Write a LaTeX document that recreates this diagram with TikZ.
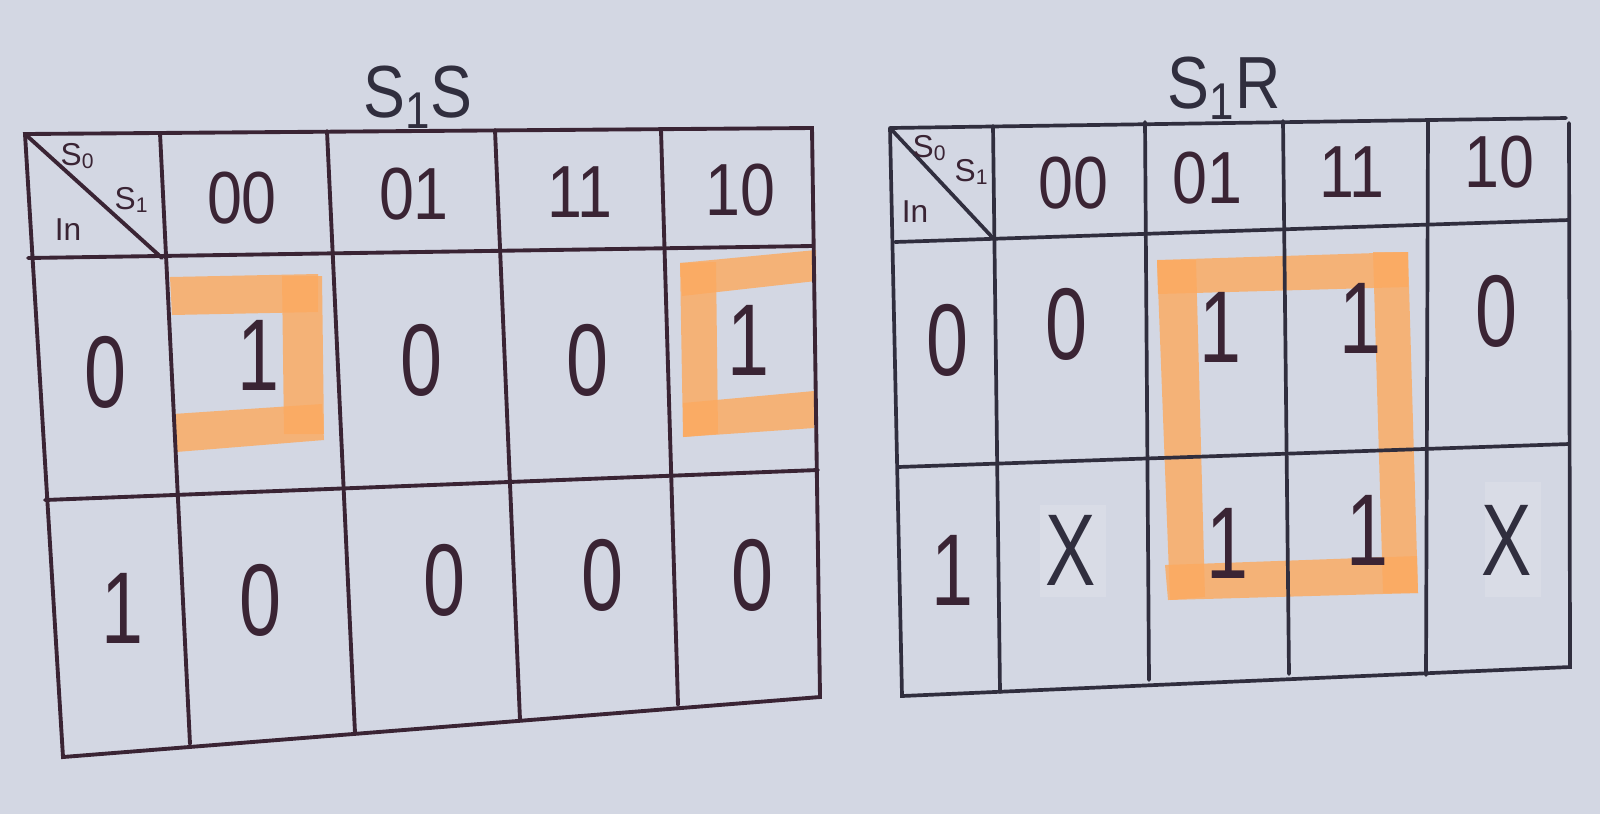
\documentclass[tikz,border=0pt]{standalone}
\usepackage{fontspec}
\setmainfont{Liberation Sans}
\definecolor{paper}{RGB}{211,215,227}
\definecolor{inkL}{RGB}{58,36,52}
\definecolor{inkR}{RGB}{48,46,62}
\definecolor{hl}{RGB}{252,170,96}
\tikzset{
  gridL/.style={draw=inkL,line width=1.1pt,line cap=round},
  gridR/.style={draw=inkR,line width=1.05pt,line cap=round},
  bar/.style={fill=hl,opacity=0.82,draw=none},
  tape/.style={fill=white,opacity=0.14,draw=none},
  cell/.style={text=inkL,font=\fontsize{29}{31}\selectfont,xscale=0.74,inner sep=0pt},
  hdr/.style={text=inkL,font=\fontsize{21}{23}\selectfont,xscale=0.85,inner sep=0pt},
  ttl/.style={text=inkR,font=\fontsize{21}{23}\selectfont,xscale=0.85,inner sep=0pt},
  crn/.style={text=inkL,font=\fontsize{9}{10}\selectfont,inner sep=0pt}
}
\begin{document}
\begin{tikzpicture}[x=0.01cm,y=-0.01cm]
\fill[paper] (0,0) rectangle (1600,814);
\useasboundingbox (0,0) rectangle (1600,814);

% ---------- left map: highlights ----------
\fill[bar] (170,277) -- (318,274) -- (318,312) -- (172,315) -- cycle;
\fill[bar] (282,276) -- (322,276) -- (324,434) -- (284,434) -- cycle;
\fill[bar] (173,414) -- (322,404) -- (324,440) -- (176,452) -- cycle;
\fill[bar] (680,263) -- (816,250) -- (816,281) -- (682,296) -- cycle;
\fill[bar] (680,263) -- (716,262) -- (718,434) -- (683,437) -- cycle;
\fill[bar] (683,403) -- (814,391) -- (814,428) -- (683,437) -- cycle;

% ---------- right map: highlights ----------
\fill[bar] (1157,260) -- (1408,252) -- (1408,287) -- (1158,294) -- cycle;
\fill[bar] (1157,260) -- (1196,260) -- (1205,597) -- (1170,600) -- cycle;
\fill[bar] (1165,565) -- (1417,556) -- (1418,593) -- (1168,600) -- cycle;
\fill[bar] (1373,252) -- (1408,252) -- (1418,593) -- (1383,593) -- cycle;
\fill[tape] (1040,505) rectangle (1106,597);
\fill[tape] (1485,482) rectangle (1541,597);

% ---------- left grid ----------
\coordinate (lTL) at (25,134);  \coordinate (lTR) at (812,128);
\coordinate (lBL) at (63,757);  \coordinate (lBR) at (820,697);
\draw[gridL] (lTL) -- (lTR) -- (lBR) -- (lBL) -- cycle;
\draw[gridL] (28,258) -- (812,246);
\draw[gridL] (45,500) -- (818,470);
\draw[gridL] (160,133) -- (190,744);
\draw[gridL] (327,131) -- (355,733);
\draw[gridL] (495,130) -- (520,720);
\draw[gridL] (661,130) -- (678,705);
\draw[gridL] (lTL) -- (162,258);

% ---------- right grid ----------
\coordinate (rTL) at (890,128);  \coordinate (rTR) at (1566,118);
\coordinate (rBL) at (902,696);  \coordinate (rBR) at (1570,667);
\draw[gridR] (rTL) -- (rTR) (1569,123) -- (rBR) -- (rBL) -- (rTL);
\draw[gridR] (895,242) -- (1569,220);
\draw[gridR] (898,467) -- (1569,444);
\draw[gridR] (993,126) -- (1000,692);
\draw[gridR] (1145,122) -- (1149,680);
\draw[gridR] (1283,121) -- (1289,674);
\draw[gridR] (1428,121) -- (1426,675);
\draw[gridR] (rTL) -- (992,237);

% ---------- titles ----------
\node[ttl] (tS) at (418,97) {S\textsubscript{1}S};
\node[ttl] (tR) at (1224,88) {S\textsubscript{1}R};

% ---------- left corner labels ----------
\node[crn] (lS0) at (78,156) {S\textsubscript{0}};
\node[crn] (lS1) at (132,200) {S\textsubscript{1}};
\node[crn] (lIn) at (68,230) {In};
% ---------- left headers ----------
\node[hdr] (l00) at (242,198) {00};
\node[hdr] (l01) at (414,194) {01};
\node[hdr] (l11) at (580,192) {11};
\node[hdr] (l10) at (740,190) {10};
\node[cell] (lr0) at (105,372) {0};
\node[cell] (lr1) at (122,608) {1};
% ---------- left cells ----------
\node[cell] (l0a) at (258,355) {1};
\node[cell] (l0b) at (421,360) {0};
\node[cell] (l0c) at (587,360) {0};
\node[cell] (l0d) at (748,340) {1};
\node[cell] (l1a) at (260,600) {0};
\node[cell] (l1b) at (444,580) {0};
\node[cell] (l1c) at (602,575) {0};
\node[cell] (l1d) at (752,575) {0};

% ---------- right corner labels ----------
\node[crn] (rS0) at (930,148) {S\textsubscript{0}};
\node[crn] (rS1) at (972,172) {S\textsubscript{1}};
\node[crn] (rIn) at (915,212) {In};
% ---------- right headers ----------
\node[hdr] (r00) at (1073,183) {00};
\node[hdr] (r01) at (1207,178) {01};
\node[hdr] (r11) at (1352,172) {11};
\node[hdr] (r10) at (1499,162) {10};
\node[cell] (rr0) at (947,340) {0};
\node[cell] (rr1) at (952,570) {1};
% ---------- right cells ----------
\node[cell] (r0a) at (1066,324) {0};
\node[cell] (r0b) at (1220,327) {1};
\node[cell] (r0c) at (1360,318) {1};
\node[cell] (r0d) at (1496,311) {0};
\node[cell,text=inkR] (r1a) at (1071,550) {X};
\node[cell] (r1b) at (1227,543) {1};
\node[cell] (r1c) at (1367,530) {1};
\node[cell,text=inkR] (r1d) at (1507,540) {X};
\end{tikzpicture}
\end{document}
